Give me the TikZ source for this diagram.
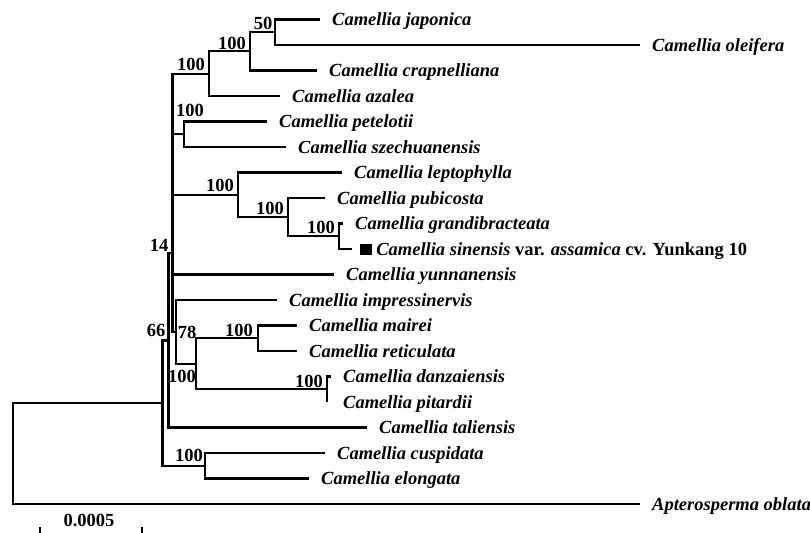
\documentclass[tikz,border=0pt]{standalone}
\usepackage{fontspec}
\setmainfont{Liberation Serif}
\usetikzlibrary{positioning}

\begin{document}
\begin{tikzpicture}[x=1pt, y=-1pt, node distance=12pt,
  branch/.style={line width=2.2pt},
  taxon/.style={inner sep=0pt, text height=12.2pt, text depth=0pt, font=\fontsize{18.5pt}{20pt}\selectfont\bfseries\itshape},
  boot/.style={inner sep=0pt, text height=12.2pt, text depth=0pt, font=\fontsize{18.5pt}{20pt}\selectfont\bfseries}]
  \useasboundingbox (0,0) rectangle (810,532);
  \coordinate (root) at (13,453.5);
  \coordinate (nP) at (162.5,403);
  \coordinate (nQ) at (168.5,340.5);
  \coordinate (nR) at (172.5,253);
  \coordinate (nX) at (172.5,174);
  \coordinate (nA) at (209,73.7);
  \coordinate (nAb) at (250,51.4);
  \coordinate (nJo) at (275,32.2);
  \coordinate (nB) at (184,134.2);
  \coordinate (nC) at (238,194.8);
  \coordinate (nPu) at (288,217.1);
  \coordinate (nGs) at (339,236.2);
  \coordinate (n78) at (176,332);
  \coordinate (nMD) at (196,364);
  \coordinate (nMa) at (258,338.2);
  \coordinate (nDa) at (327,389.2);
  \coordinate (nCu) at (205,465.7);
  \coordinate (tJap) at (320,19.5);
  \coordinate (tOle) at (640,45);
  \coordinate (tCra) at (317,70.5);
  \coordinate (tAza) at (280,96);
  \coordinate (tPet) at (267,121.5);
  \coordinate (tSze) at (286,147);
  \coordinate (tLep) at (342,172.5);
  \coordinate (tPub) at (325,198);
  \coordinate (tGra) at (343,223.5);
  \coordinate (tSin) at (352,249);
  \coordinate (tYun) at (334,274.5);
  \coordinate (tImp) at (277,300);
  \coordinate (tMai) at (297,325.5);
  \coordinate (tRet) at (297,351);
  \coordinate (tDan) at (331,376.5);
  \coordinate (tPit) at (327,402);
  \coordinate (tTal) at (367,427.5);
  \coordinate (tCus) at (325,453);
  \coordinate (tElo) at (309,478.5);
  \coordinate (tApt) at (640,504);
  \coordinate (sbL) at (40,536);
  \coordinate (sbR) at (142,536);
  \draw[branch] (root) |- (nP);
  \draw[branch] (root) |- (tApt);
  \draw[branch] (nP) |- (nQ);
  \draw[branch] (nP) |- (nCu);
  \draw[branch] (nCu) |- (tCus);
  \draw[branch] (nCu) |- (tElo);
  \draw[branch] (nQ) |- (nR);
  \draw[branch] (nQ) |- (tTal);
  \draw[branch] (nR) |- (nX);
  \draw[branch] (nR) |- (n78);
  \draw[branch] (nX) |- (nA);
  \draw[branch] (nX) |- (nB);
  \draw[branch] (nX) |- (nC);
  \draw[branch] (nX) |- (tYun);
  \draw[branch] (nA) |- (nAb);
  \draw[branch] (nA) |- (tAza);
  \draw[branch] (nAb) |- (nJo);
  \draw[branch] (nAb) |- (tCra);
  \draw[branch] (nJo) |- (tJap);
  \draw[branch] (nJo) |- (tOle);
  \draw[branch] (nB) |- (tPet);
  \draw[branch] (nB) |- (tSze);
  \draw[branch] (nC) |- (tLep);
  \draw[branch] (nC) |- (nPu);
  \draw[branch] (nPu) |- (tPub);
  \draw[branch] (nPu) |- (nGs);
  \draw[branch] (nGs) |- (tGra);
  \draw[branch] (nGs) |- (tSin);
  \draw[branch] (n78) |- (tImp);
  \draw[branch] (n78) |- (nMD);
  \draw[branch] (nMD) |- (nMa);
  \draw[branch] (nMD) |- (nDa);
  \draw[branch] (nMa) |- (tMai);
  \draw[branch] (nMa) |- (tRet);
  \draw[branch] (nDa) |- (tDan);
  \draw[branch] (nDa) |- (tPit);
  \draw[branch] (sbL) ++(0,-9) -- (sbL) -- (sbR) -- ++(0,-9);
  \node[taxon, right=of tJap] (japonica) {Camellia japonica};
  \node[taxon, right=of tOle] (oleifera) {Camellia oleifera};
  \node[taxon, right=of tCra] (crapnelliana) {Camellia crapnelliana};
  \node[taxon, right=of tAza] (azalea) {Camellia azalea};
  \node[taxon, right=of tPet] (petelotii) {Camellia petelotii};
  \node[taxon, right=of tSze] (szechuanensis) {Camellia szechuanensis};
  \node[taxon, right=of tLep] (leptophylla) {Camellia leptophylla};
  \node[taxon, right=of tPub] (pubicosta) {Camellia pubicosta};
  \node[taxon, right=of tGra] (grandibracteata) {Camellia grandibracteata};
  \node[taxon, right=8pt of tSin] (sinensis) {\rule{11.5pt}{11.5pt}\ Camellia sinensis \upshape var. \itshape assamica \upshape cv. Yunkang 10};
  \node[taxon, right=of tYun] (yunnanensis) {Camellia yunnanensis};
  \node[taxon, right=of tImp] (impressinervis) {Camellia impressinervis};
  \node[taxon, right=of tMai] (mairei) {Camellia mairei};
  \node[taxon, right=of tRet] (reticulata) {Camellia reticulata};
  \node[taxon, right=of tDan] (danzaiensis) {Camellia danzaiensis};
  \node[taxon, right=16pt of tPit] (pitardii) {Camellia pitardii};
  \node[taxon, right=of tTal] (taliensis) {Camellia taliensis};
  \node[taxon, right=of tCus] (cuspidata) {Camellia cuspidata};
  \node[taxon, right=of tElo] (elongata) {Camellia elongata};
  \node[taxon, right=of tApt] (apterosperma) {Apterosperma oblata};
  \node[boot] (bJo) at (263,23) {50};
  \node[boot] (bAb) at (232,43) {100};
  \node[boot] (bA) at (191,64) {100};
  \node[boot] (bB) at (190,110) {100};
  \node[boot] (bC) at (220,185) {100};
  \node[boot] (bPu) at (270,208) {100};
  \node[boot] (bGs) at (321,227) {100};
  \node[boot] (bR) at (159,245) {14};
  \node[boot] (bQ) at (156,330) {66};
  \node[boot] (b78) at (187,332) {78};
  \node[boot] (bMa) at (239,330) {100};
  \node[boot] (bMD) at (182,376) {100};
  \node[boot] (bDa) at (309,381) {100};
  \node[boot] (bCu) at (189,455) {100};
  \node[boot] (scale) at (89,520) {0.0005};
\end{tikzpicture}
\end{document}
